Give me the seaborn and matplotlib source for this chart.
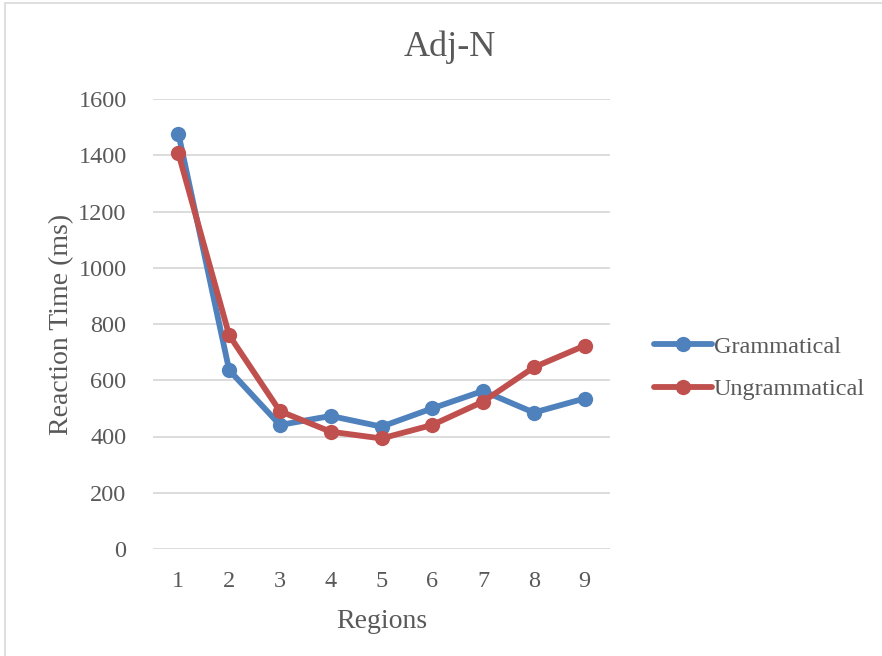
import matplotlib
matplotlib.use("Agg")
import matplotlib.pyplot as plt
import seaborn as sns
import pandas as pd
from matplotlib.patches import Rectangle
from matplotlib.lines import Line2D

regions = [1, 2, 3, 4, 5, 6, 7, 8, 9]
grammatical = [1477, 636, 441, 473, 435, 500, 562, 485, 535]
ungrammatical = [1407, 760, 490, 417, 393, 441, 524, 646, 723]
series_names = ["Grammatical", "Ungrammatical"]
y_ticks = [0, 200, 400, 600, 800, 1000, 1200, 1400, 1600]

df = pd.DataFrame({
    "Regions": regions * 2,
    "RT": grammatical + ungrammatical,
    "Condition": [series_names[0]] * len(regions) + [series_names[1]] * len(regions),
})

sns.set_theme(style="white")
plt.rcParams["font.family"] = ["Liberation Serif", "DejaVu Serif"]
text_color = "#595959"

fig = plt.figure(figsize=(8.82, 6.56), dpi=100)
ax = fig.add_axes([153 / 882, 1 - 549 / 656, (610 - 153) / 882, (549 - 99) / 656])

palette = {"Grammatical": "#4F81BD", "Ungrammatical": "#C0504D"}
sns.lineplot(data=df, x="Regions", y="RT", hue="Condition", palette=palette,
             marker="o", markersize=11, linewidth=4.2, markeredgewidth=0,
             ax=ax, legend=False)

ax.set_xlim(0.5, 9.5)
ax.set_ylim(0, 1600)
ax.set_yticks(y_ticks)
ax.set_xticks(regions)
ax.yaxis.grid(True, color="#D9D9D9", linewidth=1.3)
ax.xaxis.grid(False)
ax.set_axisbelow(True)
for s in ["top", "right", "left", "bottom"]:
    ax.spines[s].set_visible(False)
ax.tick_params(axis="both", length=0, labelsize=17.5, colors=text_color)
ax.tick_params(axis="x", pad=16)
ax.tick_params(axis="y", pad=19)
ax.set_xlabel("Regions", fontsize=20, color=text_color, labelpad=12)
ax.set_ylabel("Reaction Time (ms)", fontsize=20, color=text_color, labelpad=3)

fig.text(450 / 882, 1 - 47 / 656, "Adj-N", fontsize=26, color=text_color,
         ha="center", va="center")

handles = [Line2D([0], [0], color=palette[n], linewidth=4.2, marker="o",
                  markersize=11, markeredgewidth=0) for n in series_names]
leg = fig.legend(handles, series_names, loc="center left",
                 bbox_to_anchor=(642 / 882, 1 - 368 / 656), frameon=False,
                 fontsize=17.5, handlelength=2.4, handletextpad=0.05,
                 labelspacing=0.85, borderpad=0)
for t in leg.get_texts():
    t.set_color(text_color)

fig.patches.append(Rectangle((5 / 882, -0.1), 1.2, 1.1 - 3 / 656, transform=fig.transFigure,
                             fill=False, edgecolor="#D9D9D9", linewidth=1.2))

fig.savefig("out.png", dpi=100)
